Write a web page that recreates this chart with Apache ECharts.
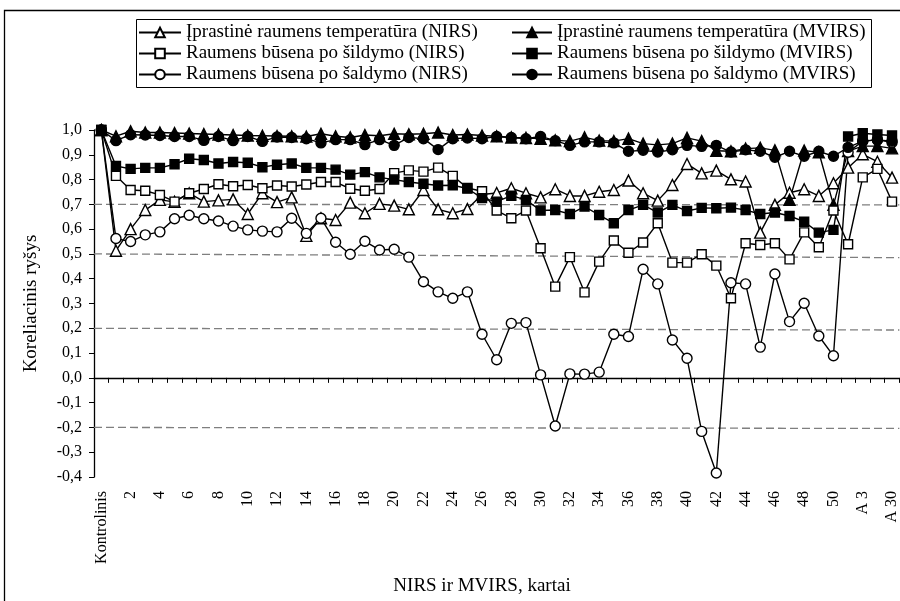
<!DOCTYPE html>
<html>
<head>
<meta charset="utf-8">
<script src="https://cdn.jsdelivr.net/npm/echarts@6/dist/echarts.min.js"></script>
<style>html,body{margin:0;padding:0;background:#fff}#c{width:900px;height:601px}</style>
</head>
<body>
<div id="c"></div>
<script>
const categories = ['Kontrolinis','1','2','3','4','5','6','7','8','9','10','11','12','13','14','15','16','17','18','19','20','21','22','23','24','25','26','27','28','29','30','31','32','33','34','35','36','37','38','39','40','41','42','43','44','45','46','47','48','49','50','A 1','A 3','A 10','A 30'];

const tempNIRS = [1.0,0.513,0.60,0.677,0.718,0.710,0.745,0.711,0.716,0.72,0.661,0.745,0.709,0.728,0.573,0.644,0.637,0.707,0.664,0.702,0.695,0.68,0.758,0.68,0.664,0.681,0.74,0.746,0.765,0.745,0.728,0.761,0.734,0.734,0.751,0.758,0.796,0.745,0.715,0.778,0.863,0.825,0.836,0.801,0.792,0.586,0.698,0.747,0.761,0.734,0.785,0.848,0.902,0.872,0.808];
const tempMVIRS = [1.0,0.975,0.995,0.99,0.99,0.988,0.986,0.984,0.982,0.98,0.978,0.977,0.976,0.975,0.974,0.985,0.975,0.97,0.98,0.977,0.985,0.983,0.985,0.99,0.98,0.982,0.978,0.975,0.97,0.968,0.965,0.958,0.955,0.97,0.957,0.955,0.965,0.945,0.94,0.945,0.968,0.955,0.916,0.914,0.925,0.928,0.918,0.718,0.917,0.91,0.698,0.915,0.935,0.935,0.926];
const heatNIRS = [1.0,0.815,0.758,0.755,0.738,0.711,0.745,0.762,0.781,0.773,0.778,0.765,0.776,0.772,0.78,0.79,0.79,0.763,0.755,0.762,0.826,0.837,0.832,0.848,0.815,0.766,0.753,0.675,0.644,0.675,0.523,0.368,0.487,0.345,0.469,0.554,0.505,0.546,0.624,0.465,0.465,0.499,0.453,0.321,0.543,0.536,0.543,0.478,0.587,0.527,0.675,0.539,0.809,0.843,0.711];
const heatMVIRS = [1.0,0.855,0.843,0.847,0.847,0.862,0.884,0.879,0.865,0.871,0.868,0.85,0.86,0.865,0.847,0.847,0.84,0.82,0.83,0.809,0.8,0.79,0.783,0.776,0.777,0.764,0.725,0.711,0.735,0.718,0.675,0.677,0.661,0.691,0.657,0.624,0.677,0.698,0.667,0.698,0.673,0.686,0.684,0.687,0.677,0.661,0.667,0.653,0.630,0.586,0.597,0.974,0.987,0.982,0.978];
const coolNIRS = [1.0,0.562,0.55,0.577,0.589,0.642,0.656,0.642,0.633,0.612,0.597,0.592,0.589,0.644,0.583,0.644,0.547,0.499,0.551,0.516,0.519,0.487,0.388,0.347,0.321,0.347,0.176,0.073,0.22,0.223,0.012,-0.194,0.016,0.015,0.023,0.176,0.167,0.438,0.379,0.153,0.079,-0.216,-0.384,0.384,0.379,0.124,0.419,0.227,0.301,0.169,0.089,0.91,0.955,0.96,0.95];
const coolMVIRS = [1.0,0.957,0.981,0.98,0.978,0.974,0.974,0.958,0.974,0.957,0.974,0.954,0.972,0.97,0.965,0.948,0.961,0.961,0.941,0.961,0.938,0.97,0.965,0.921,0.965,0.968,0.965,0.974,0.97,0.965,0.974,0.957,0.938,0.952,0.952,0.948,0.914,0.918,0.911,0.92,0.938,0.934,0.938,0.911,0.92,0.914,0.89,0.914,0.894,0.914,0.894,0.93,0.955,0.96,0.955];

// dashed reference lines: [value at left edge, value at right edge]
const refLines = [[0.7,0.698],[0.5,0.485],[0.2,0.193],[-0.2,-0.204]];

const names = [
  'Įprastinė raumens temperatūra (NIRS)',
  'Įprastinė raumens temperatūra (MVIRS)',
  'Raumens būsena po šildymo (NIRS)',
  'Raumens būsena po šildymo (MVIRS)',
  'Raumens būsena po šaldymo (NIRS)',
  'Raumens būsena po šaldymo (MVIRS)'
];

const FONT = '"Liberation Serif", "Times New Roman", serif';

function mk(name, data, symbol, size, filled) {
  return {
    name: name, type: 'line', data: data, xAxisIndex: 0, yAxisIndex: 0,
    symbol: symbol, symbolSize: size, showSymbol: true, showAllSymbol: true,
    lineStyle: {color: '#000', width: 1.4},
    itemStyle: {color: filled ? '#000' : '#fff', borderColor: '#000', borderWidth: 1.4},
    emphasis: {disabled: true}, z: 3
  };
}

const series = [
  mk(names[0], tempNIRS, 'triangle', 11, false),
  mk(names[1], tempMVIRS, 'triangle', 11, true),
  mk(names[2], heatNIRS, 'rect', 9, false),
  mk(names[3], heatMVIRS, 'rect', 9, true),
  mk(names[4], coolNIRS, 'circle', 10, false),
  mk(names[5], coolMVIRS, 'circle', 10, true)
];
refLines.forEach(function (r) {
  series.push({
    type: 'line', xAxisIndex: 2, yAxisIndex: 0, data: [[0, r[0]], [1, r[1]]],
    symbol: 'none', silent: true, z: 1,
    lineStyle: {color: '#7f7f7f', width: 1.3, type: [8, 4]}
  });
});

const chart = echarts.init(document.getElementById('c'));
chart.setOption({
  animation: false,
  backgroundColor: '#fff',
  grid: {left: 94, top: 130, width: 808.5, height: 347, containLabel: false},
  legend: [
    {data: [names[0], names[2], names[4]], orient: 'vertical', left: 138, top: 22, padding: 0,
     itemWidth: 42, itemHeight: 12, itemGap: 0,
     textStyle: {fontFamily: FONT, fontSize: 19, color: '#000', lineHeight: 21}},
    {data: [names[1], names[3], names[5]], orient: 'vertical', left: 511, top: 22, padding: 0,
     itemWidth: 40, itemHeight: 12, itemGap: 0,
     textStyle: {fontFamily: FONT, fontSize: 19, color: '#000', lineHeight: 21}}
  ],
  xAxis: [
    {type: 'category', data: categories, boundaryGap: true, position: 'bottom',
     axisLine: {show: false, onZero: false}, axisTick: {show: false},
     axisLabel: {rotate: 90, interval: 1, fontFamily: FONT, fontSize: 16, color: '#000', margin: 14}},
    {type: 'category', data: categories, boundaryGap: true, position: 'bottom',
     axisLine: {show: true, onZero: true, lineStyle: {color: '#000', width: 1.3}},
     axisTick: {show: true, interval: 0, length: 5, lineStyle: {color: '#000', width: 1}},
     axisLabel: {show: false}},
    {type: 'value', min: 0, max: 1, show: false}
  ],
  yAxis: {
    type: 'value', min: -0.4, max: 1.0, interval: 0.1,
    axisLine: {show: true, lineStyle: {color: '#000', width: 1.3}},
    axisTick: {show: true, length: 5, lineStyle: {color: '#000'}},
    splitLine: {show: false},
    axisLabel: {fontFamily: FONT, fontSize: 16, color: '#000', margin: 12,
      formatter: function (v) { if (Math.abs(v) < 1e-9) return '0,0'; return v.toFixed(1).replace('.', ','); }},
    name: 'Koreliacinis ryšys', nameLocation: 'middle', nameGap: 53,
    nameTextStyle: {fontFamily: FONT, fontSize: 19, color: '#000'}
  },
  graphic: [
    {type: 'rect', shape: {x: 4.5, y: 10.5, width: 900, height: 600}, style: {fill: 'none', stroke: '#000', lineWidth: 1.3}, z: 0, silent: true},
    {type: 'rect', shape: {x: 136.5, y: 19.5, width: 735, height: 68}, style: {fill: '#fff', stroke: '#000', lineWidth: 1}, z: -1, silent: true},
    {type: 'text', x: 482, y: 586, style: {text: 'NIRS ir MVIRS, kartai', font: '19px ' + FONT, fill: '#000', textAlign: 'center', textVerticalAlign: 'middle'}, silent: true}
  ],
  series: series
});
</script>
</body>
</html>
